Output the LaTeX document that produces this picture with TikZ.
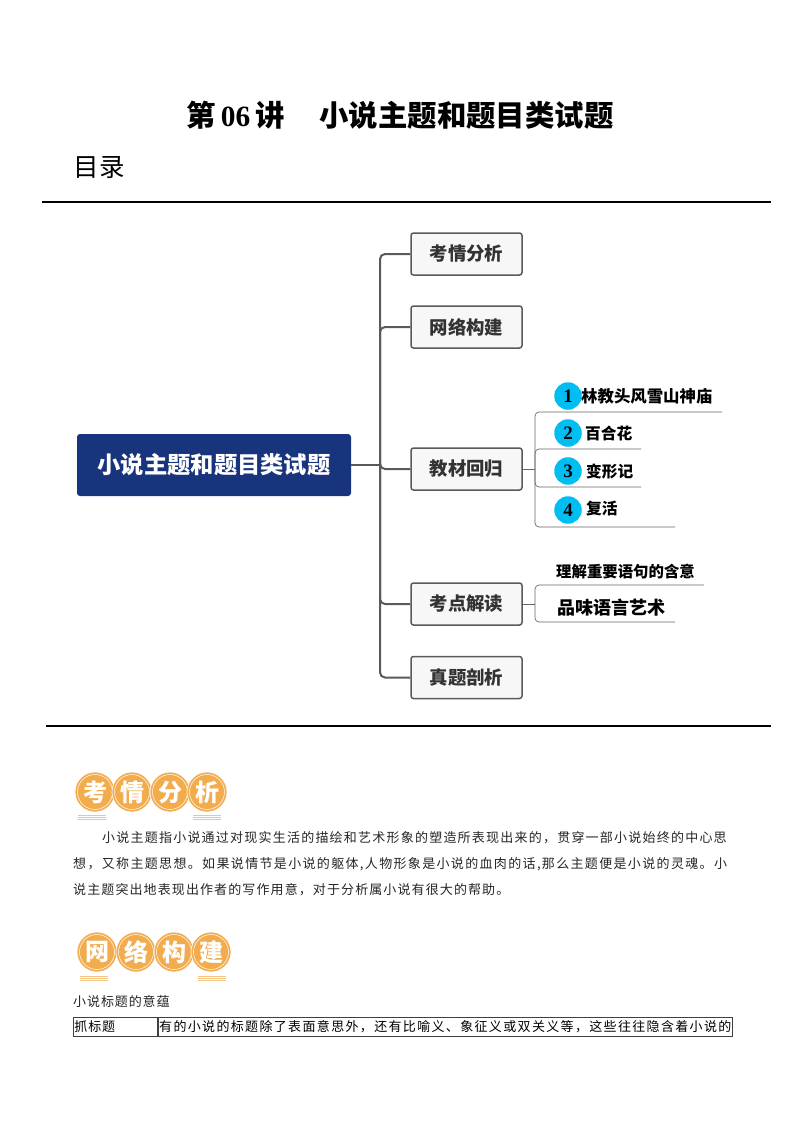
\documentclass[tikz,border=0pt]{standalone}
\usepackage{fontspec}
\setmainfont{Liberation Serif}
\newfontfamily\cjk{Noto Sans CJK SC}
\newcommand{\fsz}[1]{\fontsize{#1}{#1}\selectfont}
\definecolor{navy}{HTML}{17347C}
\definecolor{boxgray}{HTML}{F7F7F7}
\definecolor{linegray}{HTML}{5A5A5A}
\definecolor{cyanball}{HTML}{00BDF2}
\definecolor{orange1}{HTML}{F2AC4E}
\tikzset{
  topicbox/.style={draw=linegray,fill=boxgray,line width=1.5pt,rounded corners=2.5pt,
    minimum width=111pt,minimum height=42pt,inner sep=0pt,text=black!80,font=\cjk\bfseries\fsz{18.4}},
  rootbox/.style={fill=navy,rounded corners=3pt,minimum width=274pt,minimum height=62pt,
    inner sep=0pt,text=white,font=\cjk\bfseries\fsz{23.3}},
  trunk/.style={draw=linegray,line width=2pt,rounded corners=5pt},
  twig/.style={draw=black!60,line width=0.7pt,rounded corners=4pt},
  ball/.style={circle,fill=cyanball,minimum size=27.5pt,inner sep=0pt,font=\bfseries\fsz{19}},
  subtext/.style={anchor=west,inner sep=0pt,font=\cjk\bfseries\fsz{#1}},
  badge/.style={circle,fill=orange1,draw=white,line width=0.6pt,minimum size=40pt,inner sep=0pt,
    text=white,font=\cjk\bfseries\fsz{24}},
  bodytext/.style={anchor=west,inner sep=0pt,text=black!85,font=\cjk\fsz{13}\addfontfeature{LetterSpace=#1}},
  cellbox/.style={draw=black!75,line width=0.8pt,minimum height=19pt,inner sep=0pt},
  rulerline/.style={line width=2pt,black}
}
\begin{document}
\begin{tikzpicture}[x=1pt,y=1pt]
  \useasboundingbox[fill=white] (0,0) rectangle (800,-1132);
  % heading
  \node[inner sep=0pt,font=\cjk\bfseries\fsz{29.4}] (title) at (400,-115)
    {第\,\textrm{06}\,讲\hspace{35pt}小说主题和题目类试题};
  \node[anchor=west,inner sep=0pt,font=\cjk\fsz{25.5}] (toc) at (73.5,-167) {目录};
  \draw[rulerline] (42,-202) -- (771,-202);
  \draw[rulerline] (46,-726) -- (771,-726);
  % mind map
  \node[rootbox] (root) at (214,-465) {小说主题和题目类试题};
  \node[topicbox] (kaoqing) at (466.5,-254) {考情分析};
  \node[topicbox] (wangluo) at (466.5,-327) {网络构建};
  \node[topicbox] (jiaocai) at (466.5,-469) {教材回归};
  \node[topicbox] (kaodian) at (466.5,-604) {考点解读};
  \node[topicbox] (zhenti) at (466.5,-677.5) {真题剖析};
  \coordinate (fork) at (380,-465);
  \draw[trunk] (root.east) -- (fork);
  \foreach \n in {kaoqing,wangluo,jiaocai,kaodian,zhenti}
    \draw[trunk] (fork) |- (\n.west);
  % textbooks
  \coordinate (forka) at (535,-469);
  \coordinate (enda) at (722,-412);
  \coordinate (endb) at (641,-449);
  \coordinate (endc) at (641,-487);
  \coordinate (endd) at (675,-527);
  \draw[twig] (jiaocai.east) -- (forka);
  \foreach \n in {enda,endb,endc,endd}
    \draw[twig] (forka) |- (\n);
  \foreach \i/\y in {1/396,2/433,3/471,4/510}
    \node[ball] (ball\i) at (568,-\y) {\i};
  \node[subtext=16.4] (lin) at (581,-396) {林教头风雪山神庙};
  \node[subtext=15.7] (bai) at (585,-433) {百合花};
  \node[subtext=15.7] (bian) at (586,-471) {变形记};
  \node[subtext=15.7] (fu) at (586,-509) {复活};
  % exam points
  \coordinate (forkb) at (535,-604);
  \coordinate (ende) at (704,-585);
  \coordinate (endf) at (675,-622);
  \draw[twig] (kaodian.east) -- (forkb);
  \foreach \n in {ende,endf}
    \draw[twig] (forkb) |- (\n);
  \node[subtext=15.4] (lijie) at (556,-572) {理解重要语句的含意};
  \node[subtext=18] (pinwei) at (557,-608) {品味语言艺术};
  % badges
  \foreach \x/\t in {95/考,132/情,170/分,207/析}{
    \node[badge] (k\x) at (\x,-792) {\t};
    \draw[white,line width=0.5pt] (k\x) circle (17.5);
  }
  \foreach \x/\t in {97/网,136/络,174/构,211/建}{
    \node[badge] (w\x) at (\x,-952) {\t};
    \draw[white,line width=0.5pt] (w\x) circle (17.5);
  }
  \foreach \x/\y in {78/815,193/815,80/976,198/976}
    \foreach \d in {0,2,4}
      \draw[orange1!70,line width=0.9pt] (\x,-\y-\d) -- ++(28,0);
  % body text
  \node[bodytext=9.4] (lineone) at (102,-838) {小说主题指小说通过对现实生活的描绘和艺术形象的塑造所表现出来的，贯穿一部小说始终的中心思};
  \node[bodytext=10.3] (linetwo) at (73,-864) {想，又称主题思想。如果说情节是小说的躯体,人物形象是小说的血肉的话,那么主题便是小说的灵魂。小};
  \node[bodytext=8.5] (linethree) at (73,-890) {说主题突出地表现出作者的写作用意，对于分析属小说有很大的帮助。};
  \node[bodytext=7] (caption) at (73,-1001) {小说标题的意蕴};
  % table
  \node[cellbox,minimum width=84pt,anchor=west,text width=82pt,align=left] (cella) at (73,-1026.5) {\cjk\fsz{13}\addfontfeature{LetterSpace=7}抓标题};
  \node[cellbox,minimum width=574pt,anchor=west,text width=572pt,align=left] (cellb) at (cella.east) {\cjk\fsz{13}\addfontfeature{LetterSpace=10.3}有的小说的标题除了表面意思外，还有比喻义、象征义或双关义等，这些往往隐含着小说的};
\end{tikzpicture}
\end{document}
